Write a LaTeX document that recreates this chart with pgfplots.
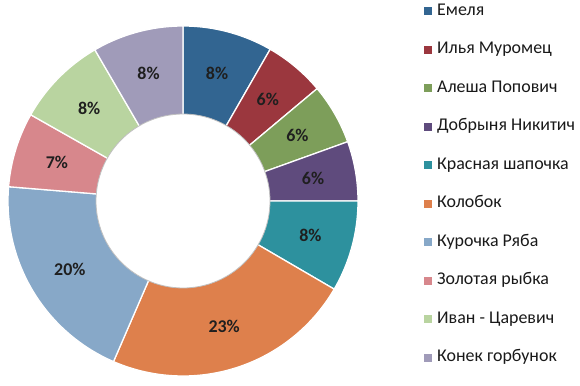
\documentclass[border=0pt]{standalone}
\usepackage{pgfplots}
\usepackage{pgfplotstable}
\pgfplotsset{compat=1.18}
\usepackage{fontspec}
\setmainfont{Carlito}
\definecolor{c0}{RGB}{50,101,145}
\definecolor{c1}{RGB}{155,55,62}
\definecolor{c2}{RGB}{125,158,90}
\definecolor{c3}{RGB}{95,75,125}
\definecolor{c4}{RGB}{45,145,158}
\definecolor{c5}{RGB}{222,128,76}
\definecolor{c6}{RGB}{135,168,200}
\definecolor{c7}{RGB}{215,135,140}
\definecolor{c8}{RGB}{185,212,160}
\definecolor{c9}{RGB}{160,155,185}
\newcommand\lblfont{\fontsize{18}{18}\selectfont\bfseries}
\pgfplotstableread[col sep=comma]{
name,value
Емеля,8.3
Илья Муромец,5.6
Алеша Попович,5.6
Добрыня Никитич,5.5
Красная шапочка,8.4
Колобок,23.1
Курочка Ряба,19.8
Золотая рыбка,6.9
Иван - Царевич,8.4
Конек горбунок,8.4
}\data
\begin{document}
\begin{tikzpicture}
\begin{axis}[
  scale only axis, width=580bp, height=385bp,
  xmin=0, xmax=580, ymin=0, ymax=385,
  hide axis, clip=false,
  legend cell align=left,
  legend image code/.code={\fill[#1,draw=none] (0bp,-4bp) rectangle (8bp,4bp);},
  legend style={at={(424/580,1-3/385)}, anchor=north west, draw=none, fill=none,
    font=\fontsize{18}{18}\selectfont, text=black!90,
    inner sep=0pt, row sep=22.5bp, column sep=5bp,
    nodes={inner sep=0pt, text height=12bp, text depth=4bp}},
]
\path (axis cs:0,0) rectangle (axis cs:580,385);
\pgfmathsetmacro\cum{0}
\pgfplotsforeachungrouped \i in {0,...,9}{
  \pgfplotstablegetelem{\i}{value}\of\data \let\v\pgfplotsretval
  \pgfplotstablegetelem{\i}{name}\of\data \let\n\pgfplotsretval
  \pgfmathsetmacro\a{90-3.6*\cum}
  \pgfmathsetmacro\b{90-3.6*(\cum+\v)}
  \pgfmathsetmacro\cum{\cum+\v}
  \edef\cmd{\noexpand\addplot[fill=c\i, draw=white, line width=1.3pt, line join=round, domain=\b:\a, samples=60]
     ({183+175*cos(x)},{184+175*sin(x)}) -- (axis cs:183,184) -- cycle;
     \noexpand\addlegendentry{\n}}
  \cmd
}
\addplot[fill=white, draw=black!25, line width=0.8pt, domain=0:360, samples=120] ({183+87*cos(x)},{184+87*sin(x)});
\pgfmathsetmacro\cum{0}
\pgfplotsforeachungrouped \i in {0,...,9}{
  \pgfplotstablegetelem{\i}{value}\of\data \let\v\pgfplotsretval
  \pgfmathsetmacro\m{90-3.6*(\cum+\v/2)}
  \pgfmathsetmacro\lx{183+132*cos(\m)}
  \pgfmathsetmacro\ly{184+132*sin(\m)}
  \pgfmathtruncatemacro\p{round(\v)}
  \pgfmathsetmacro\cum{\cum+\v}
  \edef\cmd{\noexpand\node[font=\noexpand\lblfont, text=black!88] at (axis cs:\lx,\ly) {\p\noexpand\%};}
  \cmd
}
\end{axis}
\end{tikzpicture}
\end{document}
